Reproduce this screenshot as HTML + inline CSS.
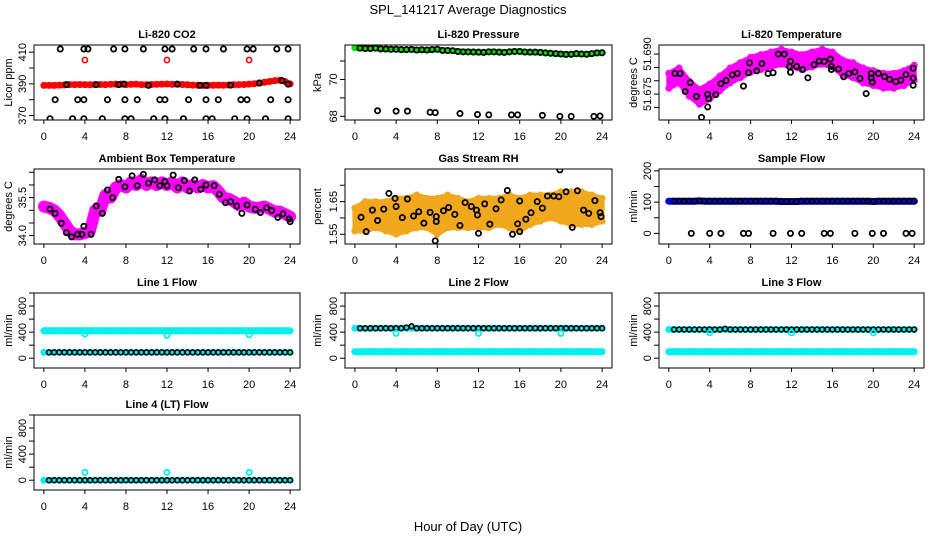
<!DOCTYPE html>
<html><head><meta charset="utf-8"><style>
html,body{margin:0;padding:0;background:#fff;}
svg{display:block;font-family:"Liberation Sans",sans-serif;}
</style></head><body>
<svg id="chart" width="936" height="540" viewBox="0 0 936 540" xmlns="http://www.w3.org/2000/svg">
<rect x="0" y="0" width="936" height="540" fill="#fff"/>
<text x="468" y="14" text-anchor="middle" font-size="13">SPL_141217  Average Diagnostics</text>
<text x="468" y="531" text-anchor="middle" font-size="13">Hour of Day (UTC)</text>
</svg>
<script>
const hours = [0,0.5,1,1.5,2,2.5,3,3.5,4,4.5,5,5.5,6,6.5,7,7.5,8,8.5,9,9.5,10,10.5,11,11.5,12,12.5,13,13.5,14,14.5,15,15.5,16,16.5,17,17.5,18,18.5,19,19.5,20,20.5,21,21.5,22,22.5,23,23.5,24];
const hourly = [0,1,2,3,4,5,6,7,8,9,10,11,12,13,14,15,16,17,18,19,20,21,22,23,24];
const xTicks = [0,4,8,12,16,20,24];

// CO2
const co2Red = [389,389,389,389.2,389.3,389.5,389.5,389.6,389.5,389.4,389.5,389.6,389.5,389.7,389.8,389.8,389.5,389.7,389.8,389.5,389.4,389.6,389.7,389.8,389.9,389.7,389.8,389.6,389.4,389.2,389.1,389.0,389.0,389.1,389.2,389.1,389.3,389.4,389.5,389.6,389.8,390.1,390.5,391,391.5,392,392.3,391.5,390];
const co2RedOutHours = [4,12,20];
const co2RedOutVals = [405,405,405];
const co2BlackHours = [1.6,3.9,4.3,6.8,7.9,9.7,11.8,12.5,14.6,15.8,17.5,19.8,20.4,22.7,23.8, 1.1,3.3,3.9,6.2,7.9,9.1,11.3,11.8,14.1,15.8,17.0,19.2,19.8,22.1,23.8, 0.6,2.8,3.9,5.7,7.9,8.5,10.7,11.8,13.6,15.8,16.4,18.6,19.8,21.6,23.8, 2.2,5.1,7.3,7.8,10.2,13,15.2,15.8,18.2,21,23.2,23.8];
const co2BlackVals = [412,412,412,412,412,412,412,412,412,412,412,412,412,412,412, 380,380,380,380,380,380,380,380,380,380,380,380,380,380,380, 368,368,368,368,368,368,368,368,368,368,368,368,368,368,368, 389.5,389.5,389.5,389.8,389,389.8,389,389,389.2,390.5,392,389.8];

// Pressure
const presGreen = [71.72,71.70,71.68,71.68,71.70,71.66,71.65,71.64,71.64,71.62,71.62,71.63,71.60,71.61,71.60,71.62,71.64,71.58,71.57,71.56,71.52,71.50,71.50,71.49,71.48,71.47,71.50,71.50,71.48,71.47,71.50,71.52,71.52,71.49,71.48,71.48,71.47,71.44,71.42,71.40,71.38,71.36,71.37,71.40,71.38,71.37,71.40,71.44,71.45];
const presLowHours = [2.2,4,5.1,7.3,7.8,10.2,11.9,13,15.2,15.8,18.2,19.9,21,23.2,23.8];
const presLowVals = [68.3,68.28,68.28,68.22,68.2,68.15,68.1,68.08,68.08,68.08,68.05,68.0,68.0,68.0,68.02];

// Li-820 temperature
const tempMid = [51.680,51.682,51.677,51.674,51.676,51.679,51.682,51.684,51.686,51.687,51.688,51.689,51.688,51.687,51.688,51.689,51.688,51.685,51.684,51.682,51.681,51.680,51.680,51.681,51.683];
const tempSpread = 0.0028;
const tempBlackHours = [0.6,1.1,2.1,1.6,2.7,3.8,3.9,3.8,3.2,4.6,5.1,5.6,6.2,6.7,7.3,7.8,7.9,8.6,9.1,9.7,10.2,10.7,11.3,11.8,11.9,11.9,12.5,13.1,13.6,14.2,14.7,15.2,15.8,15.9,15.9,16.6,17.1,17.6,18.2,18.7,19.3,19.8,19.8,19.9,20.5,21.1,21.6,22.2,22.7,23.2,23.9,23.9,23.9];
const tempBlackVals = [51.6827,51.6827,51.6793,51.6760,51.6741,51.6749,51.6733,51.6702,51.6663,51.6748,51.6789,51.6801,51.6822,51.6827,51.6780,51.6830,51.6867,51.6837,51.6864,51.6827,51.6830,51.6900,51.6900,51.6853,51.6873,51.6832,51.6854,51.6842,51.6811,51.6860,51.6874,51.6872,51.6881,51.6854,51.6842,51.6844,51.6815,51.6827,51.6833,51.6809,51.6752,51.6827,51.6811,51.6795,51.6827,51.6815,51.6805,51.6797,51.6802,51.6823,51.6847,51.6810,51.6783];

// Ambient box temperature
const ambMagenta = [35.15,35.1,35.0,34.8,34.5,34.2,34.05,34.05,34.1,34.2,35.0,35.0,35.6,35.5,35.9,36.0,35.9,36.1,36.0,36.2,36.0,36.1,36.0,36.1,36.0,36.1,35.9,36.1,35.9,36.0,35.9,36.0,35.9,35.95,35.75,35.5,35.45,35.35,35.2,35.3,35.15,35.1,35.1,35.15,35.05,34.95,34.95,34.85,34.75];
const ambBlackHours = [0.6,1.1,1.7,2.2,2.7,3.3,3.7,3.9,4.6,5.1,5.7,6.2,6.7,7.3,7.9,8.6,9.1,9.7,10.2,10.8,11.3,11.8,12.0,12.6,13.1,13.7,14.2,14.7,15.3,15.8,16.6,17.1,17.7,18.2,18.8,19.3,19.8,20.6,21.1,21.7,22.2,22.8,23.3,23.9,24];
const ambBlackVals = [35.05,34.88,34.49,34.12,33.95,34.05,34.05,34.37,34.05,35.17,34.88,35.80,35.50,36.22,35.93,36.36,35.97,36.42,36.07,36.20,35.97,36.13,35.97,36.39,35.89,36.17,35.76,36.20,35.83,36.0,35.97,35.63,35.30,35.34,35.17,34.88,35.21,35.04,34.91,35.1,34.99,34.72,34.86,34.66,34.55];

// Gas stream RH
const rhLo = [1.56,1.56,1.57,1.56,1.55,1.56,1.57,1.57,1.55,1.57,1.57,1.57,1.57,1.57,1.58,1.57,1.56,1.58,1.59,1.60,1.59,1.58,1.58,1.58,1.59];
const rhHi = [1.63,1.65,1.65,1.65,1.66,1.66,1.67,1.66,1.66,1.67,1.66,1.65,1.66,1.66,1.66,1.67,1.66,1.67,1.67,1.67,1.68,1.68,1.68,1.67,1.66];
const rhBlackHours = [0.6,1.1,1.7,2.2,2.8,3.3,3.9,4.0,4.6,5.1,5.7,6.2,6.7,7.3,7.9,7.9,7.8,8.6,9.1,9.7,10.2,10.7,11.3,11.8,11.9,12.0,12.6,13.1,13.7,14.2,14.8,15.3,15.8,16.0,16.0,16.6,17.1,17.7,18.2,18.7,19.3,19.8,19.9,20.5,21.1,21.6,22.2,22.7,23.3,23.8,23.9];
const rhBlackVals = [1.602,1.558,1.624,1.592,1.627,1.675,1.660,1.635,1.601,1.658,1.606,1.619,1.584,1.617,1.604,1.589,1.530,1.622,1.632,1.611,1.577,1.647,1.635,1.624,1.609,1.553,1.643,1.581,1.628,1.655,1.684,1.550,1.582,1.558,1.652,1.596,1.616,1.650,1.630,1.667,1.667,1.665,1.747,1.680,1.571,1.683,1.624,1.614,1.653,1.616,1.604];

// Sample flow
const sampleBlue = [103,103,103,103,103,103,104,103,103,103,103,103,103,103,103,103,103,103,103,103,103,103,102,102,102,102,103,103,103,103,103,103,103,103,103,103,103,103,103,103,102,103,103,103,103,103,103,103,103];
const sampleZeroHours = [2.2,4,5.1,7.3,7.8,10.2,11.9,13,15.2,15.8,18.2,19.9,21,23.2,23.8];
const sampleZeroVals = [0,0,0,0,0,0,0,0,0,0,0,0,0,0,0];

// Line flows
const line1Cyan = [420,420,420,420,420,420,420,420,420,420,420,420,420,420,420,420,420,420,420,420,420,420,420,420,420,420,420,420,420,420,420,420,420,420,420,420,420,420,420,420,420,420,420,420,420,420,420,420,420];
const line1CyanLow = [90,90,90,90,90,90,90,90,90,90,90,90,90,90,90,90,90,90,90,90,90,90,90,90,90,90,90,90,90,90,90,90,90,90,90,90,90,90,90,90,90,90,90,90,90,90,90,90,90];
const line1Black = [90,90,90,90,90,90,90,90,90,90,90,90,90,90,90,90,90,90,90,90,90,90,90,90,90,90,90,90,90,90,90,90,90,90,90,90,90,90,90,90,90,90,90,90,90,90,90,90,90];
const line1OutVals = [370,350,360];
const line2Cyan = [460,460,455,455,460,460,460,460,460,460,460,460,460,460,460,460,460,460,460,460,460,460,460,460,460,460,460,460,460,460,460,460,460,460,460,460,460,460,460,460,460,460,460,460,460,460,460,460,460];
const line2CyanLow = [100,100,100,100,100,100,100,100,100,100,100,100,100,100,100,100,100,100,100,100,100,100,100,100,100,100,100,100,100,100,100,100,100,100,100,100,100,100,100,100,100,100,100,100,100,100,100,100,100];
const line2Black = [460,460,460,460,460,460,460,460,460,460,470,490,460,460,460,460,460,460,460,460,460,460,460,460,460,460,460,460,460,460,460,460,460,460,460,460,460,460,460,460,460,460,460,460,460,460,460,460,460];
const line2OutVals = [380,380,380];
const line3Cyan = [440,440,440,440,440,440,440,440,440,440,440,440,440,440,440,440,440,440,440,440,440,440,440,440,440,440,440,440,440,440,440,440,440,440,440,440,440,440,440,440,440,440,440,440,440,440,440,440,440];
const line3CyanLow = [100,100,100,100,100,100,100,100,100,100,100,100,100,100,100,100,100,100,100,100,100,100,100,100,100,100,100,100,100,100,100,100,100,100,100,100,100,100,100,100,100,100,100,100,100,100,100,100,100];
const line3Black = [440,440,440,440,440,440,440,440,440,440,440,450,440,440,440,440,440,440,440,440,440,440,440,440,440,440,440,440,440,440,440,440,440,440,440,440,440,440,440,440,440,440,440,440,440,440,440,440,440];
const line3OutVals = [390,390,390];
const line4Cyan = [0,0,0,0,0,0,0,0,0,0,0,0,0,0,0,0,0,0,0,0,0,0,0,0,0,0,0,0,0,0,0,0,0,0,0,0,0,0,0,0,0,0,0,0,0,0,0,0,0];
const line4Black = [0,0,0,0,0,0,0,0,0,0,0,0,0,0,0,0,0,0,0,0,0,0,0,0,0,0,0,0,0,0,0,0,0,0,0,0,0,0,0,0,0,0,0,0,0,0,0,0,0];
const line4OutVals = [120,120,120];
const outHours = [4,12,20];

const NS = 'http://www.w3.org/2000/svg';
const svg = document.getElementById('chart');
const cols = [[34,300,8],[345,612,317],[659,924,633]];
const rows = [45,169,293,415];
const BH = 75;

function mk(tag, parent, attrs){
  const e = document.createElementNS(NS, tag);
  for (const k in attrs) e.setAttribute(k, attrs[k]);
  parent.appendChild(e);
  return e;
}

function makePanel(name, col, row, title, ylab, ymin, ymax, yTicks, yLabels){
  const [L, R, ylx] = cols[col];
  const T = rows[row], B = T + BH;
  const g = mk('g', svg, {});
  
  
  const sx = v => L + (v + 0.96) / 25.92 * (R - L);
  const sy = v => B - (v - ymin) / (ymax - ymin) * BH;
  const clipId = name + '-clip';
  const cp = mk('clipPath', g, {id: clipId});
  mk('rect', cp, {x: L, y: T, width: R - L, height: BH});
  const marks = mk('g', g, {'clip-path': 'url(#' + clipId + ')'});
  
  
  const box = mk('rect', g, {x: L, y: T, width: R - L, height: BH, fill: 'none', stroke: '#000', 'stroke-width': 1});
  
  
  const t = mk('text', g, {x: (L + R) / 2, y: T - 7, 'text-anchor': 'middle', 'font-size': 11, 'font-weight': 'bold'});
  t.textContent = title;
  
  
  const yl = mk('text', g, {x: ylx + 4, y: (T + B) / 2, 'text-anchor': 'middle', 'font-size': 11, transform: 'rotate(-90 ' + (ylx + 4) + ' ' + ((T + B) / 2) + ')'});
  yl.textContent = ylab;
  
  
  xTicks.forEach(v => {
    const x = sx(v);
    mk('line', g, {x1: x, x2: x, y1: B, y2: B + 4, stroke: '#000'});
    const tx = mk('text', g, {x: x, y: B + 20, 'text-anchor': 'middle', 'font-size': 11});
    tx.textContent = v;
    
    
  });
  yTicks.forEach(v => {
    const y = sy(v);
    mk('line', g, {x1: L - 5, x2: L, y1: y, y2: y, stroke: '#000'});
  });
  yLabels.forEach(v => {
    const y = sy(Number(v));
    const bx = L - 8;
    const tx = mk('text', g, {x: bx, y: y, 'text-anchor': 'middle', 'font-size': 11, transform: 'rotate(-90 ' + bx + ' ' + y + ')'});
    tx.textContent = String(v);
    
    
  });
  return {sx, sy, marks};
}

function pts(p, name, xs, ys, color, r, sw){
  xs.forEach((h, i) => {
    const c = mk('circle', p.marks, {cx: p.sx(h), cy: p.sy(ys[i]), r: r, fill: 'none', stroke: color, 'stroke-width': sw});
    
    
  });
}
function band(p, name, xs, ys, color, w){
  let d = '';
  xs.forEach((h, i) => { d += (i ? 'L' : 'M') + p.sx(h).toFixed(1) + ',' + p.sy(ys[i]).toFixed(1); });
  const e = mk('path', p.marks, {d: d, fill: 'none', stroke: color, 'stroke-width': w, 'stroke-linejoin': 'round', 'stroke-linecap': 'round'});
  
  
  pts(p, name + '-point', xs, ys, color, 2.6, 1.8);
}
function cloud(p, name, xs, lo, hi, fill){
  let d = '';
  xs.forEach((h, i) => { d += (i ? 'L' : 'M') + p.sx(h).toFixed(1) + ',' + p.sy(hi[i]).toFixed(1); });
  for (let i = xs.length - 1; i >= 0; i--) d += 'L' + p.sx(xs[i]).toFixed(1) + ',' + p.sy(lo[i]).toFixed(1);
  d += 'Z';
  const e = mk('path', p.marks, {d: d, fill: fill, stroke: fill, 'stroke-width': 5, 'stroke-linejoin': 'round'});
  
  
  pts(p, name + '-edge-point', xs, hi, fill, 2.6, 1.8);
  pts(p, name + '-edge-point', xs, lo, fill, 2.6, 1.8);
}
const BLK = '#000', CY = '#00f0f0';

// Panel 1: CO2
let p = makePanel('co2', 0, 0, 'Li-820 CO2', 'Licor ppm', 367.2, 414.5, [370,380,390,400,410], [370,390,410]);
band(p, 'co2-red-series', hours, co2Red, '#f00', 6);
pts(p, 'co2-red-outlier', co2RedOutHours, co2RedOutVals, '#f00', 2.6, 1.6);
pts(p, 'co2-black-point', co2BlackHours, co2BlackVals, BLK, 2.6, 1.8);

// Panel 2: pressure
p = makePanel('pressure', 1, 0, 'Li-820 Pressure', 'kPa', 67.8, 71.87, [68,69,70,71], [68,70]);
band(p, 'pressure-green-series', hours, presGreen, '#00e000', 6);
pts(p, 'pressure-black-point', hours.slice(1), presGreen.slice(1), BLK, 2.6, 1.8);
pts(p, 'pressure-low-point', presLowHours, presLowVals, BLK, 2.6, 1.8);

// Panel 3: Li-820 temperature
p = makePanel('li820-temp', 2, 0, 'Li-820 Temperature', 'degrees C', 51.6653, 51.6934, [51.670,51.675,51.680,51.685,51.690], ['51.675','51.690']);
cloud(p, 'li820-temp-cloud', hourly, tempMid.map(v => v - tempSpread), tempMid.map(v => v + tempSpread), '#f0f');
pts(p, 'li820-temp-black-point', tempBlackHours, tempBlackVals, BLK, 2.6, 1.8);

// Panel 4: ambient
p = makePanel('ambient-temp', 0, 1, 'Ambient Box Temperature', 'degrees C', 33.67, 36.63, [34.0,34.5,35.0,35.5,36.0,36.5], ['34.0','35.5']);
band(p, 'ambient-magenta-series', hours, ambMagenta, '#f0f', 12);
pts(p, 'ambient-black-point', ambBlackHours, ambBlackVals, BLK, 2.6, 1.8);

// Panel 5: RH
p = makePanel('gas-rh', 1, 1, 'Gas Stream RH', 'percent', 1.5203, 1.7497, [1.55,1.60,1.65,1.70], ['1.55','1.65']);
cloud(p, 'gas-rh-cloud', hourly, rhLo, rhHi, '#f2a81c');
pts(p, 'gas-rh-black-point', rhBlackHours, rhBlackVals, BLK, 2.6, 1.8);

// Panel 6: sample flow
p = makePanel('sample-flow', 2, 1, 'Sample Flow', 'ml/min', -34, 206, [0,50,100,150,200], [0,100,200]);
band(p, 'sample-blue-series', hours, sampleBlue, '#0000f0', 7);
pts(p, 'sample-black-point', hours.slice(1), sampleBlue.slice(1), BLK, 2.6, 1.8);
pts(p, 'sample-zero-point', sampleZeroHours, sampleZeroVals, BLK, 2.6, 1.8);

const flowTicks = [0,200,400,600,800,1000], flowLabels = [0,400,800];
// Line 1
p = makePanel('line1-flow', 0, 2, 'Line 1 Flow', 'ml/min', -150, 1000, flowTicks, flowLabels);
band(p, 'line1-cyan-high', hours, line1Cyan, CY, 7);
band(p, 'line1-cyan-low', hours, line1CyanLow, CY, 5);
pts(p, 'line1-black-point', hours.slice(1), line1Black.slice(1), BLK, 2.4, 1.6);
pts(p, 'line1-cyan-outlier', outHours, line1OutVals, CY, 2.6, 1.8);
// Line 2
p = makePanel('line2-flow', 1, 2, 'Line 2 Flow', 'ml/min', -150, 1000, flowTicks, flowLabels);
band(p, 'line2-cyan-high', hours, line2Cyan, CY, 6);
band(p, 'line2-cyan-low', hours, line2CyanLow, CY, 7);
pts(p, 'line2-black-point', hours.slice(1), line2Black.slice(1), BLK, 2.4, 1.6);
pts(p, 'line2-cyan-outlier', outHours, line2OutVals, CY, 2.6, 1.8);
// Line 3
p = makePanel('line3-flow', 2, 2, 'Line 3 Flow', 'ml/min', -150, 1000, flowTicks, flowLabels);
band(p, 'line3-cyan-high', hours, line3Cyan, CY, 6);
band(p, 'line3-cyan-low', hours, line3CyanLow, CY, 7);
pts(p, 'line3-black-point', hours.slice(1), line3Black.slice(1), BLK, 2.4, 1.6);
pts(p, 'line3-cyan-outlier', outHours, line3OutVals, CY, 2.6, 1.8);
// Line 4
p = makePanel('line4-flow', 0, 3, 'Line 4 (LT) Flow', 'ml/min', -150, 1000, flowTicks, flowLabels);
band(p, 'line4-cyan-series', hours, line4Cyan, CY, 5);
pts(p, 'line4-black-point', hours.slice(1), line4Black.slice(1), BLK, 2.4, 1.6);
pts(p, 'line4-cyan-outlier', outHours, line4OutVals, CY, 2.6, 1.8);
</script>
</body></html>
